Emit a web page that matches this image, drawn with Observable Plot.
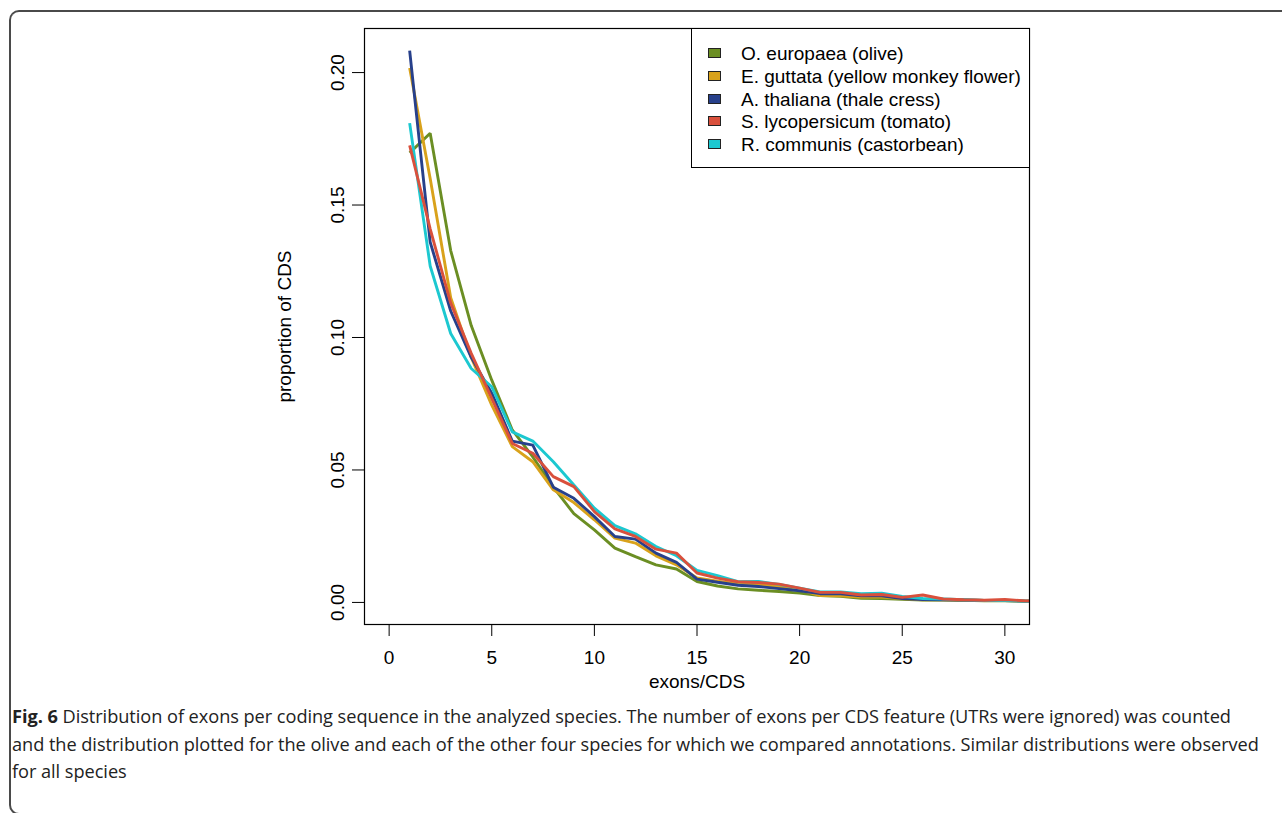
<!DOCTYPE html>
<html>
<head>
<meta charset="utf-8">
<script src="https://cdn.jsdelivr.net/npm/d3@7"></script>
<script src="https://cdn.jsdelivr.net/npm/@observablehq/plot@0.6"></script>
<style>
  html, body { margin: 0; padding: 0; background: #fff; overflow: hidden; }
  #page { position: relative; width: 1282px; height: 813px; overflow: hidden; background: #fff; }
  #frame { position: absolute; left: 9px; top: 10px; width: 1400px; height: 805px; border: 2px solid #4a4a4a; border-right: none; border-radius: 10px 0 0 10px; box-sizing: border-box; }
  #chart { position: absolute; left: 0; top: 0; }
  #legend { position: absolute; left: 691px; top: 28px; width: 339px; height: 140px; border: 1px solid #000; background: #fff; box-sizing: border-box;
            font-family: "Liberation Sans", Arial, Helvetica, sans-serif; font-size: 19px; color: #000; }
  .item { position: absolute; left: 16px; height: 23px; line-height: 23px; white-space: nowrap; }
  .sw { position: absolute; left: 0; top: 6px; width: 13px; height: 10px; border: 1px solid #222; box-sizing: border-box; }
  .lab { position: absolute; left: 33px; top: 0; }
  #caption { position: absolute; left: 12px; top: 703px; width: 1268px; font-family: "Open Sans", sans-serif; font-size: 18.2px; line-height: 27.5px; color: #222; letter-spacing: -0.05px; }
  #caption div { white-space: nowrap; }
</style>
</head>
<body>
<div id="page">
  <div id="frame"></div>
  <div id="chart"></div>
  <div id="legend"></div>
  <div id="caption">
    <div><b>Fig. 6</b> Distribution of exons per coding sequence in the analyzed species. The number of exons per CDS feature (UTRs were ignored) was counted</div>
    <div>and the distribution plotted for the olive and each of the other four species for which we compared annotations. Similar distributions were observed</div>
    <div>for all species</div>
  </div>
</div>
<script>
// exons per CDS (x)
const exons = [1,2,3,4,5,6,7,8,9,10,11,12,13,14,15,16,17,18,19,20,21,22,23,24,25,26,27,28,29,30,31,32];

const speciesNames = [
  "O. europaea (olive)",
  "E. guttata (yellow monkey flower)",
  "A. thaliana (thale cress)",
  "S. lycopersicum (tomato)",
  "R. communis (castorbean)"
];
const speciesColors = ["#6b8e23", "#d9a21b", "#27408b", "#d9503c", "#1cc8d0"];

const olive = [0.1697,0.1771,0.1328,0.1045,0.0839,0.0651,0.0549,0.0435,0.0335,0.0274,0.0205,0.0173,0.0142,0.0126,0.0079,0.0062,0.0051,0.0046,0.0041,0.0035,0.0026,0.0023,0.0016,0.0015,0.0012,0.0009,0.0009,0.0008,0.0006,0.0006,0.0005,0.0004];
const guttata = [0.2017,0.1600,0.1150,0.0925,0.0745,0.0588,0.0531,0.0425,0.0377,0.0312,0.0243,0.0224,0.0176,0.0142,0.0092,0.0080,0.0070,0.0067,0.0060,0.0048,0.0026,0.0025,0.0020,0.0020,0.0015,0.0010,0.0010,0.0009,0.0007,0.0007,0.0005,0.0004];
const thaliana = [0.2083,0.1360,0.1100,0.0925,0.0790,0.0609,0.0594,0.0435,0.0393,0.0324,0.0249,0.0239,0.0186,0.0151,0.0088,0.0076,0.0065,0.0060,0.0052,0.0044,0.0033,0.0033,0.0025,0.0025,0.0015,0.0011,0.0010,0.0009,0.0007,0.0007,0.0005,0.0004];
const lycopersicum = [0.1725,0.1410,0.1130,0.0940,0.0770,0.0600,0.0563,0.0475,0.0437,0.0343,0.0278,0.0249,0.0201,0.0186,0.0111,0.0092,0.0078,0.0075,0.0069,0.0054,0.0038,0.0038,0.0028,0.0030,0.0019,0.0028,0.0013,0.0010,0.0008,0.0011,0.0006,0.0005];
const communis = [0.1809,0.1270,0.1015,0.0883,0.0814,0.0644,0.0609,0.0531,0.0443,0.0356,0.0290,0.0259,0.0211,0.0176,0.0121,0.0101,0.0078,0.0079,0.0068,0.0054,0.0040,0.0040,0.0033,0.0035,0.0023,0.0015,0.0013,0.0010,0.0007,0.0007,0.0005,0.0004];

const xTicks = [0, 5, 10, 15, 20, 25, 30];
const yTicks = [0.00, 0.05, 0.10, 0.15, 0.20];

const seriesValues = [olive, guttata, thaliana, lycopersicum, communis];
// draw order (last on top)
const drawOrder = [0, 1, 2, 4, 3];
const data = drawOrder.flatMap(si => seriesValues[si].map((v, i) => ({x: exons[i], y: v, species: speciesNames[si]})));

// R-style 4% padding
const xlim = [0, 30];
const xpad = (xlim[1] - xlim[0]) * 0.04;
const ymax = d3.max(seriesValues.flat());
const ypad = ymax * 0.04;

const chart = Plot.plot({
  width: 1282,
  height: 700,
  marginLeft: 364,
  marginRight: 253,
  marginTop: 28,
  marginBottom: 76,
  style: {fontFamily: "'Liberation Sans', Arial, Helvetica, sans-serif", fontSize: "19px", color: "#000", background: "transparent", overflow: "visible"},
  x: {domain: [xlim[0] - xpad, xlim[1] + xpad]},
  y: {domain: [0 - ypad, ymax + ypad]},
  color: {domain: speciesNames, range: speciesColors},
  marks: [
    Plot.line(data, {x: "x", y: "y", z: "species", stroke: "species", strokeWidth: 2.9, clip: true, strokeLinejoin: "miter", strokeLinecap: "butt"}),
    Plot.frame({stroke: "#000", strokeWidth: 1.2}),
    Plot.axisX({ticks: xTicks, tickSize: 12, tickPadding: 14, tickFormat: d => String(d), label: "exons/CDS", labelAnchor: "center", labelArrow: "none", labelOffset: 63, stroke: "#000"}),
    Plot.axisY({ticks: yTicks, tickSize: 12, tickPadding: 9, tickRotate: -90, tickFormat: d3.format(".2f"), label: "proportion of CDS", labelAnchor: "center", labelArrow: "none", labelOffset: 87, stroke: "#000"})
  ]
});
document.getElementById("chart").appendChild(chart);

// legend (HTML)
const legend = document.getElementById("legend");
speciesNames.forEach((name, i) => {
  const item = document.createElement("div");
  item.className = "item";
  item.style.top = (13 + i * 22.8) + "px";
  const sw = document.createElement("div");
  sw.className = "sw";
  sw.style.background = speciesColors[i];
  const lab = document.createElement("div");
  lab.className = "lab";
  lab.textContent = name;
  item.appendChild(sw);
  item.appendChild(lab);
  legend.appendChild(item);
});
</script>
</body>
</html>
